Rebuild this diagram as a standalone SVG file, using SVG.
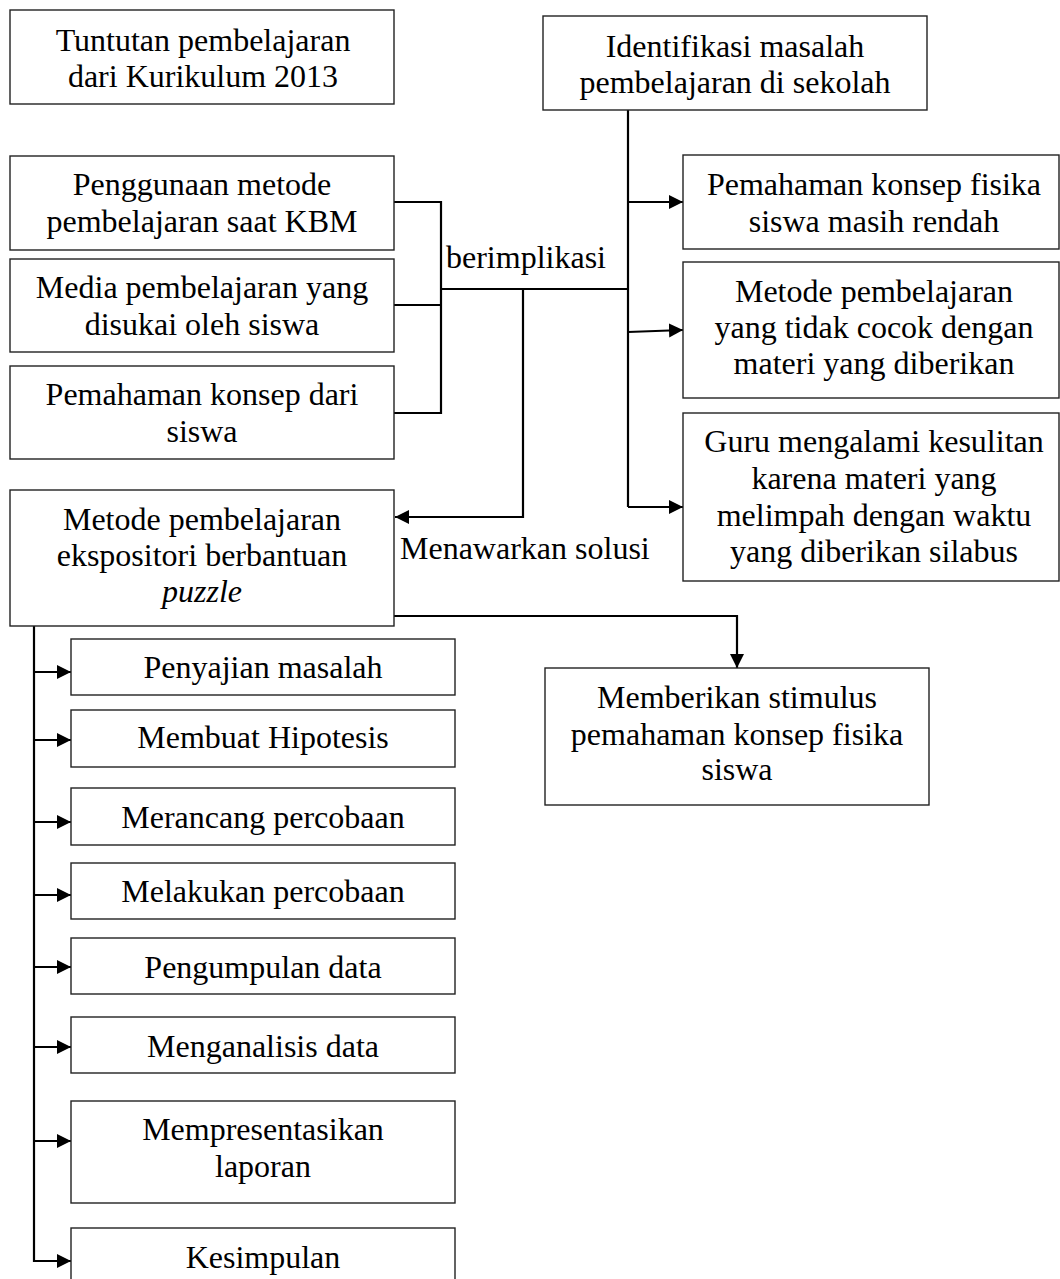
<svg xmlns="http://www.w3.org/2000/svg" width="1060" height="1279" viewBox="0 0 1060 1279">
<style>
rect.box{fill:#fff;stroke:#222;stroke-width:1.4}
text{font-family:"Liberation Serif","Times New Roman",serif;font-size:32px;fill:#000;text-anchor:middle}
text.lbl{text-anchor:start}
.conn path{fill:none;stroke:#000;stroke-width:2.2}
</style>
<defs>
<marker id="ah" markerUnits="userSpaceOnUse" markerWidth="16" markerHeight="16" refX="14" refY="7" orient="auto">
<path d="M0,0 L14,7 L0,14 Z" fill="#000"/>
</marker>
</defs>
<rect width="1060" height="1279" fill="#fff"/>

<g class="conn">
<path d="M394,202 H441 V413 H394"/>
<path d="M394,305 H441"/>
<path d="M441,289 H628"/>
<path d="M523,289 V517 H395" marker-end="url(#ah)"/>
<path d="M628,110 V507"/>
<path d="M628,202 H683" marker-end="url(#ah)"/>
<path d="M628,332 L683,330" marker-end="url(#ah)"/>
<path d="M628,507 H683" marker-end="url(#ah)"/>
<path d="M394,616 H737 V668" marker-end="url(#ah)"/>
<path d="M34,626 V1261 H71" marker-end="url(#ah)"/>
<path d="M34,672 H71" marker-end="url(#ah)"/>
<path d="M34,740 H71" marker-end="url(#ah)"/>
<path d="M34,822 H71" marker-end="url(#ah)"/>
<path d="M34,895 H71" marker-end="url(#ah)"/>
<path d="M34,967 H71" marker-end="url(#ah)"/>
<path d="M34,1047 H71" marker-end="url(#ah)"/>
<path d="M34,1141 H71" marker-end="url(#ah)"/>
</g>

<g id="n-tuntutan"><rect class="box" x="10" y="10" width="384" height="94"/><text x="203" y="51">Tuntutan pembelajaran</text><text x="203" y="87">dari Kurikulum 2013</text></g>
<g id="n-identifikasi"><rect class="box" x="543" y="16" width="384" height="94"/><text x="735" y="57">Identifikasi masalah</text><text x="735" y="93">pembelajaran di sekolah</text></g>
<g id="n-penggunaan"><rect class="box" x="10" y="156" width="384" height="94"/><text x="202" y="195">Penggunaan metode</text><text x="202" y="232">pembelajaran saat KBM</text></g>
<g id="n-media"><rect class="box" x="10" y="259" width="384" height="93"/><text x="202" y="298">Media pembelajaran yang</text><text x="202" y="335">disukai oleh siswa</text></g>
<g id="n-pemahaman-dari"><rect class="box" x="10" y="366" width="384" height="93"/><text x="202" y="405">Pemahaman konsep dari</text><text x="202" y="442">siswa</text></g>
<g id="n-metode-puzzle"><rect class="box" x="10" y="490" width="384" height="136"/><text x="202" y="530">Metode pembelajaran</text><text x="202" y="566">ekspositori berbantuan</text><text x="202" y="602" font-style="italic">puzzle</text></g>
<g id="n-fisika-rendah"><rect class="box" x="683" y="155" width="376" height="94"/><text x="874" y="195">Pemahaman konsep fisika</text><text x="874" y="232">siswa masih rendah</text></g>
<g id="n-tidak-cocok"><rect class="box" x="683" y="262" width="376" height="136"/><text x="874" y="302">Metode pembelajaran</text><text x="874" y="338">yang tidak cocok dengan</text><text x="874" y="374">materi yang diberikan</text></g>
<g id="n-guru"><rect class="box" x="683" y="413" width="376" height="168"/><text x="874" y="452">Guru mengalami kesulitan</text><text x="874" y="489">karena materi yang</text><text x="874" y="526">melimpah dengan waktu</text><text x="874" y="562">yang diberikan silabus</text></g>
<g id="n-stimulus"><rect class="box" x="545" y="668" width="384" height="137"/><text x="737" y="708">Memberikan stimulus</text><text x="737" y="745">pemahaman konsep fisika</text><text x="737" y="780">siswa</text></g>

<g id="lbl-berimplikasi"><text class="lbl" x="446" y="268">berimplikasi</text></g>
<g id="lbl-menawarkan"><text class="lbl" x="400" y="559">Menawarkan solusi</text></g>

<g id="s1"><rect class="box" x="71" y="639" width="384" height="56"/><text x="263" y="678">Penyajian masalah</text></g>
<g id="s2"><rect class="box" x="71" y="710" width="384" height="57"/><text x="263" y="748">Membuat Hipotesis</text></g>
<g id="s3"><rect class="box" x="71" y="788" width="384" height="57"/><text x="263" y="828">Merancang percobaan</text></g>
<g id="s4"><rect class="box" x="71" y="863" width="384" height="56"/><text x="263" y="902">Melakukan percobaan</text></g>
<g id="s5"><rect class="box" x="71" y="938" width="384" height="56"/><text x="263" y="978">Pengumpulan data</text></g>
<g id="s6"><rect class="box" x="71" y="1017" width="384" height="56"/><text x="263" y="1057">Menganalisis data</text></g>
<g id="s7"><rect class="box" x="71" y="1101" width="384" height="102"/><text x="263" y="1140">Mempresentasikan</text><text x="263" y="1177">laporan</text></g>
<g id="s8"><rect class="box" x="71" y="1228" width="384" height="62"/><text x="263" y="1268">Kesimpulan</text></g>
</svg>
